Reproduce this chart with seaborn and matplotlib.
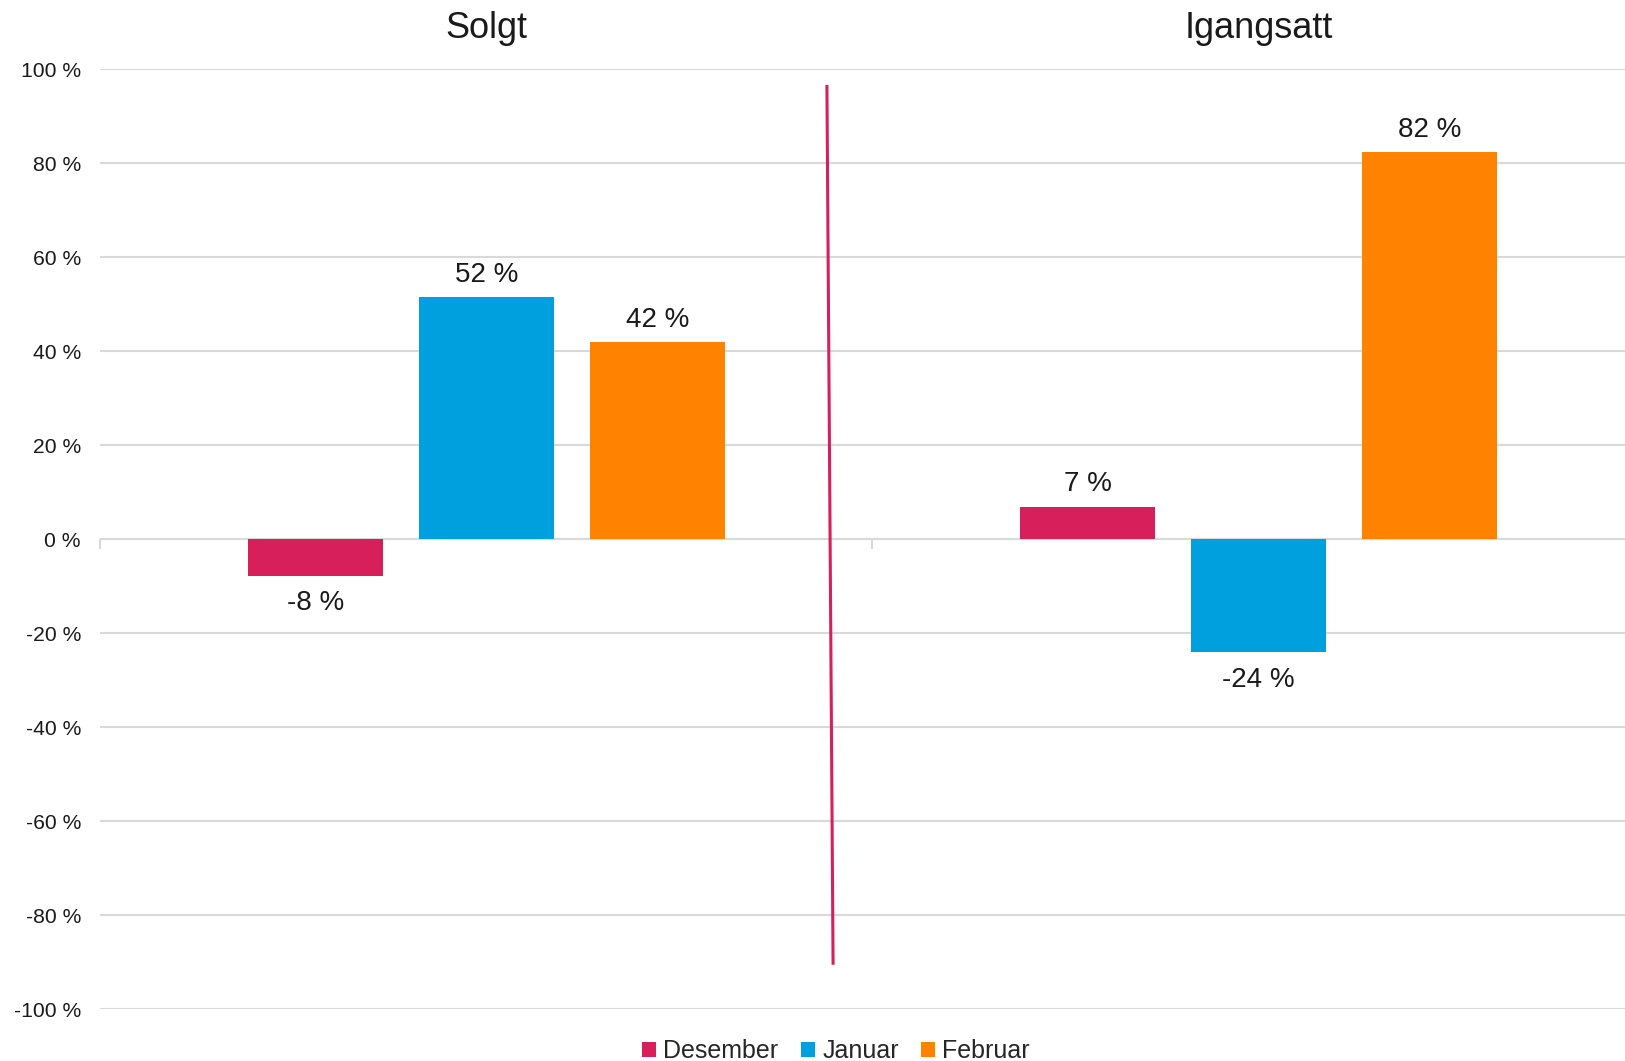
"""
Monthly change (%) for Solgt / Igangsatt, grouped bars per month.
"""

import matplotlib
matplotlib.use("Agg")  # Non-interactive backend for saving

import matplotlib.pyplot as plt
import matplotlib.ticker as mticker
import matplotlib.transforms as mtransforms
import seaborn as sns
import pandas as pd


# --- Data ---
categories = ["Solgt", "Igangsatt"]
months = ["Desember", "Januar", "Februar"]
desember = [-7.7, 7.0]
januar = [51.5, -24.0]
februar = [41.9, 82.4]
y_ticks = [-100, -80, -60, -40, -20, 0, 20, 40, 60, 80, 100]

# --- Style ---
PALETTE = ["#D71F5B", "#00A0DF", "#FF8200"]
GRID = "#D9D9D9"
TEXT = "#1A1A1A"

df = pd.DataFrame({
    "kategori": categories * len(months),
    "maaned": [m for m in months for _ in categories],
    "endring": desember + januar + februar,
})

sns.set_theme(style="white")
plt.rcParams["font.family"] = ["Liberation Sans", "DejaVu Sans"]

fig = plt.figure(figsize=(16.25, 10.61), dpi=100)
ax = fig.add_axes([0.0618, 0.0486, 0.9502, 0.886])

sns.barplot(
    data=df, x="kategori", y="endring", hue="maaned",
    order=categories, hue_order=months, palette=PALETTE,
    width=0.6645, gap=0.21, errorbar=None, linewidth=0,
    saturation=1, ax=ax,
)

# Axes formatting
ax.set_xlim(-0.5, 1.5)
ax.set_ylim(-100, 100)
ax.set_yticks(y_ticks)
ax.yaxis.set_major_formatter(mticker.FuncFormatter(lambda v, _: f"{v:.0f} %"))
ax.tick_params(axis="y", length=0, pad=14, labelsize=15.2, labelcolor=TEXT)
ax.set_xlabel("")
ax.set_ylabel("")
ax.set_xticks([])
ax.set_xticks([-0.5, 0.5, 1.5], minor=True)
ax.tick_params(axis="x", which="minor", direction="out", length=7,
               width=1.5, color=GRID, bottom=True)
ax.spines["bottom"].set_position(("data", 0))
for side in ["top", "right", "left", "bottom"]:
    ax.spines[side].set_visible(False)
ax.yaxis.grid(True, color=GRID, linewidth=1.5)
ax.set_axisbelow(True)

# Value labels
for container in ax.containers:
    for bar in container:
        h = bar.get_height()
        x = bar.get_x() + bar.get_width() / 2
        ax.annotate(f"{round(h):d} %", (x, h),
                    xytext=(0, 16 if h > 0 else -20), textcoords="offset points",
                    ha="center", va="center", fontsize=20, color=TEXT)

# Category titles above the plot
trans = mtransforms.blended_transform_factory(ax.transData, ax.transAxes)
for i, cat in enumerate(categories):
    ax.text(i, 1.043, cat, transform=trans, ha="center", va="center",
            fontsize=26, color=TEXT)

# Hand-drawn divider between the groups
ax.plot([0.441, 0.449], [96.7, -90.5], color="#D71F5B", linewidth=2.2,
        solid_capstyle="butt", clip_on=False, zorder=5)

# Legend at the bottom
handles, labels = ax.get_legend_handles_labels()
ax.get_legend().remove()
fig.legend(handles, labels, loc="center", bbox_to_anchor=(0.5145, 0.0095),
           ncol=3, frameon=False, fontsize=18, handlelength=0.55,
           handleheight=0.55, handletextpad=0.3, columnspacing=0.9)

fig.savefig("out.png", dpi=100)
plt.close(fig)
